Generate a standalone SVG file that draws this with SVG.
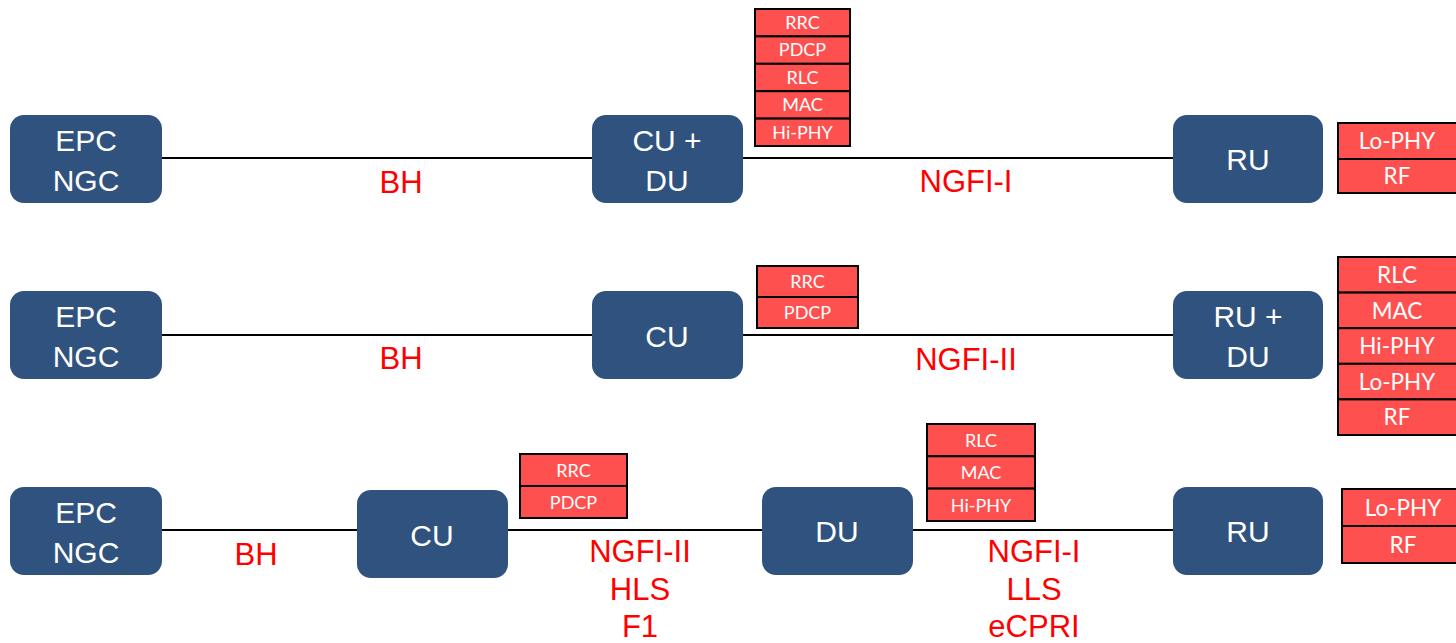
<svg xmlns="http://www.w3.org/2000/svg" width="1456" height="643" viewBox="0 0 1456 643">
  <style>
    .node rect { fill: #30527F; }
    .node text { fill: #FFFFFF; font-family: "Liberation Sans", Arial, sans-serif; font-size: 30px; text-anchor: middle; }
    .link { stroke: #000000; stroke-width: 2; fill: none; }
    .lbl { fill: #FF0000; font-family: "Liberation Sans", Arial, sans-serif; font-size: 31px; text-anchor: middle; }
    .layer rect { fill: #FF5050; stroke: #000000; stroke-width: 2; }
    .layer text { fill: #FFFFFF; font-family: Lato, "Open Sans", sans-serif; text-anchor: middle; }
    .sm text { font-size: 18px; }
    .lg text { font-size: 22.5px; }
  </style>

  <!-- connectors -->
  <g id="connectors">
    <line class="link" x1="162" y1="158" x2="592" y2="158"/>
    <line class="link" x1="743" y1="158" x2="1173" y2="158"/>
    <line class="link" x1="162" y1="335" x2="592" y2="335"/>
    <line class="link" x1="743" y1="335" x2="1173" y2="335"/>
    <line class="link" x1="162" y1="530" x2="357" y2="530"/>
    <line class="link" x1="508" y1="530" x2="762" y2="530"/>
    <line class="link" x1="913" y1="530" x2="1173" y2="530"/>
  </g>

  <!-- interface labels -->
  <g id="labels">
    <text class="lbl" x="401" y="193">BH</text>
    <text class="lbl" x="966" y="192">NGFI-I</text>
    <text class="lbl" x="401" y="369">BH</text>
    <text class="lbl" x="966" y="370">NGFI-II</text>
    <text class="lbl" x="256" y="565">BH</text>
    <text class="lbl" x="640" y="562">NGFI-II</text>
    <text class="lbl" x="640" y="600">HLS</text>
    <text class="lbl" x="640" y="637">F1</text>
    <text class="lbl" x="1034" y="562">NGFI-I</text>
    <text class="lbl" x="1034" y="600">LLS</text>
    <text class="lbl" x="1034" y="637">eCPRI</text>
  </g>

  <!-- row 1 -->
  <g id="core1" class="node">
    <rect x="10" y="115" width="152" height="88" rx="14"/>
    <text x="86" y="151">EPC</text>
    <text x="86" y="191">NGC</text>
  </g>
  <g id="cudu1" class="node">
    <rect x="592" y="115" width="151" height="88" rx="14"/>
    <text x="667" y="151">CU +</text>
    <text x="667" y="191">DU</text>
  </g>
  <g id="ru1" class="node">
    <rect x="1173" y="115" width="150" height="88" rx="14"/>
    <text x="1248" y="170">RU</text>
  </g>
  <g id="stack-cudu1" class="layer sm">
    <rect x="755" y="9" width="95" height="27.4"/>
    <rect x="755" y="36.4" width="95" height="27.4"/>
    <rect x="755" y="63.8" width="95" height="27.4"/>
    <rect x="755" y="91.2" width="95" height="27.4"/>
    <rect x="755" y="118.6" width="95" height="27.4"/>
    <text x="802.5" y="29">RRC</text>
    <text x="802.5" y="56.4">PDCP</text>
    <text x="802.5" y="83.8">RLC</text>
    <text x="802.5" y="111.2">MAC</text>
    <text x="802.5" y="138.6">Hi-PHY</text>
  </g>
  <g id="stack-ru1" class="layer lg">
    <rect x="1338" y="123" width="122" height="36"/>
    <rect x="1338" y="159" width="122" height="34"/>
    <text x="1397" y="149">Lo-PHY</text>
    <text x="1397" y="184">RF</text>
  </g>

  <!-- row 2 -->
  <g id="core2" class="node">
    <rect x="10" y="291" width="152" height="88" rx="14"/>
    <text x="86" y="327">EPC</text>
    <text x="86" y="367">NGC</text>
  </g>
  <g id="cu2" class="node">
    <rect x="592" y="291" width="151" height="88" rx="14"/>
    <text x="667" y="347">CU</text>
  </g>
  <g id="rudu2" class="node">
    <rect x="1173" y="291" width="150" height="88" rx="14"/>
    <text x="1248" y="327">RU +</text>
    <text x="1248" y="367">DU</text>
  </g>
  <g id="stack-cu2" class="layer sm">
    <rect x="757" y="266" width="101" height="31"/>
    <rect x="757" y="297" width="101" height="31"/>
    <text x="807.5" y="288">RRC</text>
    <text x="807.5" y="319">PDCP</text>
  </g>
  <g id="stack-rudu2" class="layer lg">
    <rect x="1338" y="257" width="122" height="35.6"/>
    <rect x="1338" y="292.6" width="122" height="35.6"/>
    <rect x="1338" y="328.2" width="122" height="35.6"/>
    <rect x="1338" y="363.8" width="122" height="35.6"/>
    <rect x="1338" y="399.4" width="122" height="35.6"/>
    <text x="1397" y="283">RLC</text>
    <text x="1397" y="318.6">MAC</text>
    <text x="1397" y="354.2">Hi-PHY</text>
    <text x="1397" y="389.8">Lo-PHY</text>
    <text x="1397" y="425.4">RF</text>
  </g>

  <!-- row 3 -->
  <g id="core3" class="node">
    <rect x="10" y="487" width="152" height="88" rx="14"/>
    <text x="86" y="523">EPC</text>
    <text x="86" y="563">NGC</text>
  </g>
  <g id="cu3" class="node">
    <rect x="357" y="490" width="151" height="88" rx="14"/>
    <text x="432" y="546">CU</text>
  </g>
  <g id="du3" class="node">
    <rect x="762" y="487" width="151" height="88" rx="14"/>
    <text x="837" y="542">DU</text>
  </g>
  <g id="ru3" class="node">
    <rect x="1173" y="487" width="150" height="88" rx="14"/>
    <text x="1248" y="542">RU</text>
  </g>
  <g id="stack-cu3" class="layer sm">
    <rect x="520" y="454" width="107" height="32"/>
    <rect x="520" y="486" width="107" height="32"/>
    <text x="573.5" y="476.5">RRC</text>
    <text x="573.5" y="508.5">PDCP</text>
  </g>
  <g id="stack-du3" class="layer sm">
    <rect x="927" y="424" width="108" height="32.3"/>
    <rect x="927" y="456.3" width="108" height="32.3"/>
    <rect x="927" y="488.6" width="108" height="32.4"/>
    <text x="981" y="447">RLC</text>
    <text x="981" y="479.3">MAC</text>
    <text x="981" y="511.6">Hi-PHY</text>
  </g>
  <g id="stack-ru3" class="layer lg">
    <rect x="1342" y="489" width="118" height="37"/>
    <rect x="1342" y="526" width="118" height="37"/>
    <text x="1403" y="515.5">Lo-PHY</text>
    <text x="1403" y="552.5">RF</text>
  </g>
</svg>
